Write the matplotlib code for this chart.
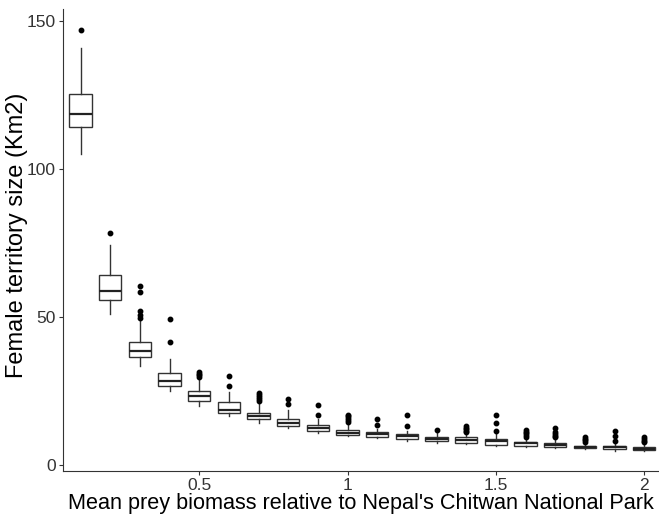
import matplotlib
matplotlib.use("Agg")
import matplotlib.pyplot as plt

plt.rcParams['font.family'] = ['Liberation Sans', 'DejaVu Sans']

# relative prey biomass (x positions of the boxes)
biomass = [0.1, 0.2, 0.3, 0.4, 0.5, 0.6, 0.7, 0.8, 0.9, 1.0,
           1.1, 1.2, 1.3, 1.4, 1.5, 1.6, 1.7, 1.8, 1.9, 2.0]

# box statistics (Km2)
whislo = [105.0, 51.0, 33.3, 24.8, 19.8, 16.4, 14.2, 12.3, 10.7, 9.7,
          8.9, 8.1, 7.5, 7.0, 6.3, 6.1, 5.6, 5.2, 4.8, 4.5]
q1 = [114.3, 55.6, 36.3, 26.8, 21.5, 17.6, 15.4, 13.2, 11.4, 10.1,
      9.4, 8.6, 7.9, 7.5, 6.8, 6.4, 6.1, 5.6, 5.3, 5.0]
med = [118.6, 58.8, 38.6, 28.5, 23.1, 18.5, 16.5, 14.2, 12.5, 10.8,
       10.3, 9.6, 8.8, 8.4, 7.9, 7.2, 6.8, 6.1, 5.9, 5.5]
q3 = [125.3, 64.3, 41.6, 31.1, 24.8, 21.1, 17.5, 15.6, 13.5, 11.8,
      11.0, 10.3, 9.4, 9.3, 8.8, 7.8, 7.5, 6.5, 6.4, 6.1]
whishi = [141.0, 74.2, 48.5, 35.8, 29.0, 24.5, 21.0, 18.5, 15.5, 14.0,
          12.1, 11.5, 10.6, 10.8, 10.4, 9.3, 9.0, 7.4, 7.6, 7.0]
fliers = [
    [147.0],
    [78.4],
    [60.6, 58.3, 51.9, 50.8, 49.7],
    [49.3, 41.4],
    [31.3, 30.8, 30.3, 29.8],
    [29.9, 26.5],
    [24.2, 23.5, 22.8, 22.2, 21.7],
    [22.3, 20.7],
    [20.2, 17.0],
    [17.0, 16.4, 15.8, 15.2, 14.6],
    [15.5, 13.6],
    [17.0, 13.1],
    [11.8],
    [13.2, 12.6, 12.0, 11.4, 11.0],
    [16.8, 14.1, 11.5],
    [11.8, 11.2, 10.6, 10.0, 9.5],
    [12.3, 11.0, 10.4, 9.8, 9.3],
    [9.3, 8.8, 8.3, 7.8],
    [11.3, 9.7, 8.1],
    [9.3, 8.7, 8.1, 7.6],
]

stats = []
for i in range(len(biomass)):
    stats.append(dict(whislo=whislo[i], q1=q1[i], med=med[i], q3=q3[i],
                      whishi=whishi[i], fliers=fliers[i]))

fig = plt.figure(figsize=(6.59, 5.15), dpi=100)
ax = fig.add_axes([0.0956, 0.0845, 0.9044, 0.898])

ax.bxp(stats, positions=biomass, widths=0.075, patch_artist=True,
       showcaps=False,
       boxprops=dict(facecolor='white', edgecolor='#333333', linewidth=1.0),
       medianprops=dict(color='#222222', linewidth=1.6),
       whiskerprops=dict(color='#333333', linewidth=1.0),
       flierprops=dict(marker='o', markerfacecolor='black', markeredgecolor='black',
                       markersize=3.2))

ax.set_xlim(0.041, 2.05)
ax.set_ylim(-2.27, 154.2)
ax.set_xticks([0.5, 1, 1.5, 2])
ax.set_xticklabels(['0.5', '1', '1.5', '2'])
ax.set_yticks([0, 50, 100, 150])
ax.tick_params(labelsize=12.5, color='#333333', labelcolor='#333333', length=3, pad=2)

for side in ['top', 'right']:
    ax.spines[side].set_visible(False)
for side in ['left', 'bottom']:
    ax.spines[side].set_color('#333333')

ax.set_xlabel("Mean prey biomass relative to Nepal's Chitwan National Park",
              fontsize=15.6, labelpad=0)
ax.set_ylabel("Female territory size (Km2)", fontsize=17)
ax.yaxis.set_label_coords(-0.058, 0.51)

fig.savefig("out.png", dpi=100)
